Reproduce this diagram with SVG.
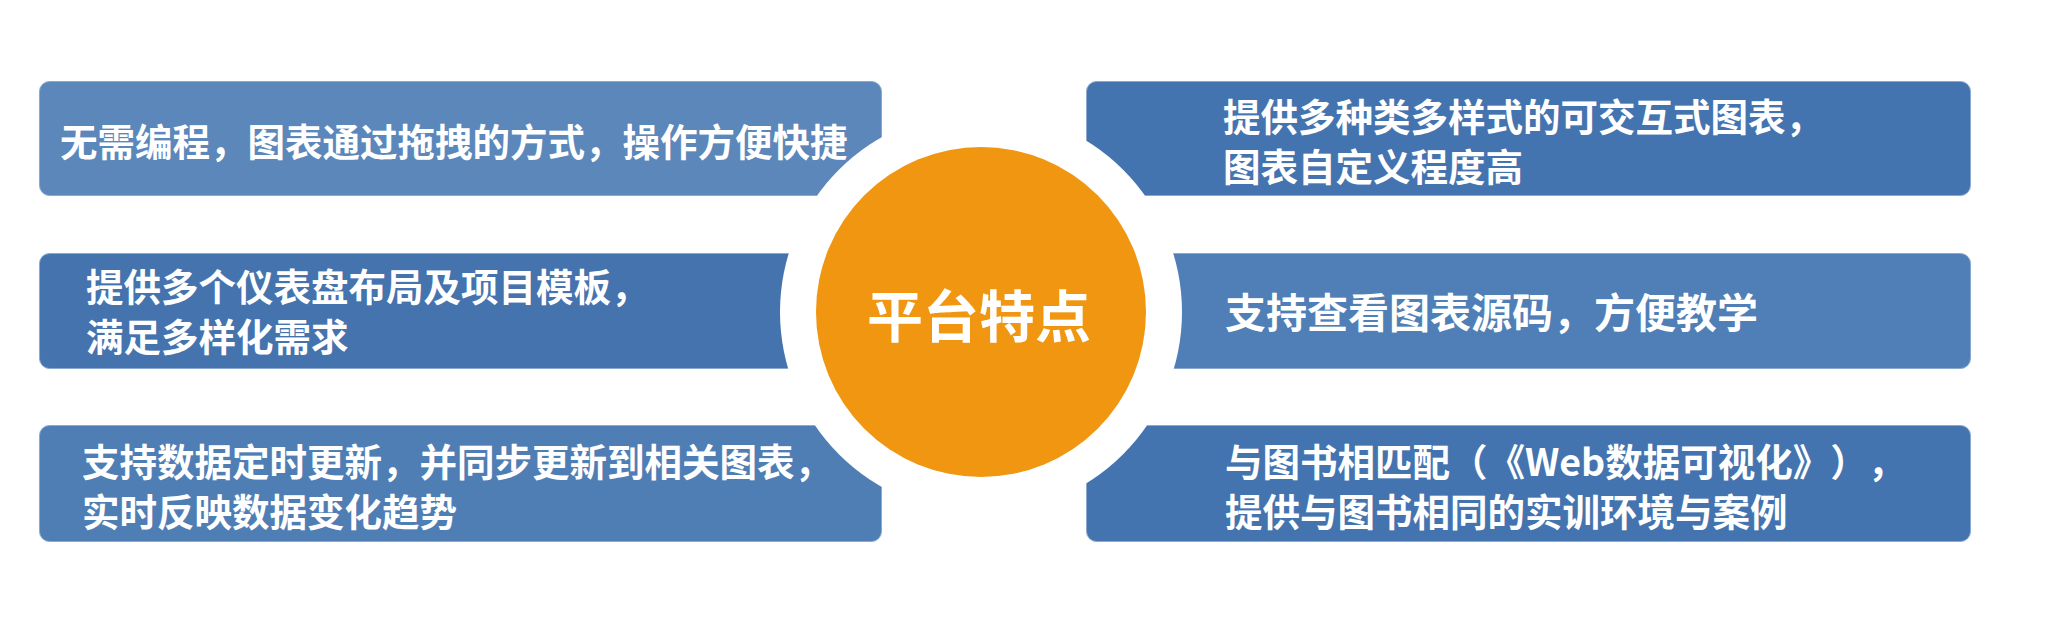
<svg xmlns="http://www.w3.org/2000/svg" width="2065" height="644" viewBox="0 0 2065 644">
<style>
.box{stroke:#8AA8D0;stroke-width:1}
.t{fill:#ffffff;font-family:"Noto Sans CJK SC","Microsoft YaHei",sans-serif;font-weight:700;font-size:37.5px;text-spacing-trim:space-all}
.c{fill:#ffffff;font-family:"Noto Sans CJK SC","Microsoft YaHei",sans-serif;font-weight:700;font-size:56px;text-anchor:middle}
</style>
<rect width="2065" height="644" fill="#ffffff"/>
<g id="connectors"></g>
<g id="box1"><rect class="box" x="39.5" y="81.5" width="842" height="114" rx="10" fill="#5B87BB"/></g>
<g id="box2"><rect class="box" x="39.5" y="253.5" width="842" height="115" rx="10" fill="#4473AE"/></g>
<g id="box3"><rect class="box" x="39.5" y="425.5" width="842" height="116" rx="10" fill="#4F7EB5"/></g>
<g id="box4"><rect class="box" x="1086.5" y="81.5" width="884" height="114" rx="10" fill="#4474AF"/></g>
<g id="box5"><rect class="box" x="1086.5" y="253.5" width="884" height="115" rx="10" fill="#4F7FB6"/></g>
<g id="box6"><rect class="box" x="1086.5" y="425.5" width="884" height="116" rx="10" fill="#4474AF"/></g>
<g id="center">
<circle cx="981" cy="312" r="201" fill="#ffffff"/>
<circle cx="981" cy="312" r="165" fill="#F19610"/>
<text class="c" x="979" y="337">平台特点</text>
</g>
<g id="labels">
<text class="t" x="60" y="156">无需编程，图表通过拖拽的方式，操作方便快捷</text>
<text class="t" x="86" y="301">提供多个仪表盘布局及项目模板，</text>
<text class="t" x="86" y="351">满足多样化需求</text>
<text class="t" x="82" y="476">支持数据定时更新，并同步更新到相关图表，</text>
<text class="t" x="82" y="526">实时反映数据变化趋势</text>
<text class="t" x="1223" y="131">提供多种类多样式的可交互式图表，</text>
<text class="t" x="1223" y="181">图表自定义程度高</text>
<text class="t" x="1225" y="328" style="font-size:41px">支持查看图表源码，方便教学</text>
<text class="t" x="1225" y="476">与图书相匹配（《Web数据可视化》），</text>
<text class="t" x="1225" y="526">提供与图书相同的实训环境与案例</text>
</g>
</svg>
